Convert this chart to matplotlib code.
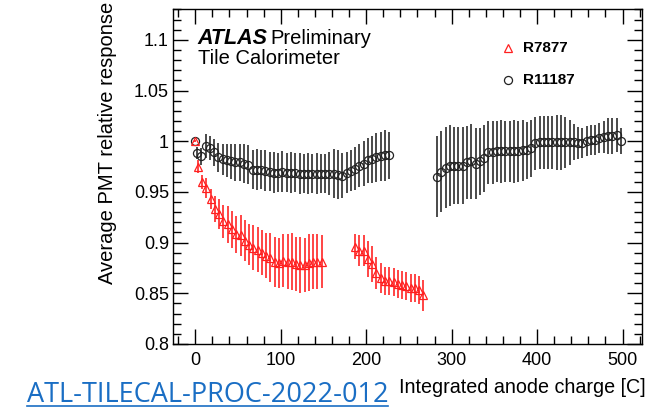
import matplotlib
matplotlib.use("Agg")
import matplotlib.pyplot as plt
from matplotlib.ticker import MultipleLocator, FuncFormatter

plt.rcParams['font.family'] = ['Liberation Sans', 'DejaVu Sans']

# R11187 (black circles), first block
blk1_x = [0, 2, 7, 12, 17, 22, 27, 32, 37, 42, 47, 52, 57, 62, 67, 72, 77, 82, 87, 92,
          97, 102, 107, 112, 117, 122, 127, 132, 137, 142, 147, 152, 157, 162, 167, 172,
          177, 182, 187, 192, 197, 202, 207, 212, 217, 222, 227]
blk1_y = [1.000, 0.988, 0.985, 0.995, 0.993, 0.989, 0.984, 0.982, 0.981, 0.980, 0.979,
          0.979, 0.978, 0.977, 0.972, 0.972, 0.972, 0.971, 0.970, 0.969, 0.969, 0.970,
          0.969, 0.969, 0.969, 0.968, 0.968, 0.968, 0.968, 0.968, 0.968, 0.968, 0.968,
          0.968, 0.967, 0.966, 0.969, 0.971, 0.973, 0.976, 0.978, 0.981, 0.982, 0.984,
          0.985, 0.986, 0.986]
blk1_e = [0.001, 0.006, 0.008, 0.012, 0.012, 0.013, 0.014, 0.015, 0.016, 0.017, 0.018,
          0.018, 0.019, 0.019, 0.019, 0.020, 0.019, 0.020, 0.019, 0.020, 0.019, 0.020,
          0.019, 0.020, 0.019, 0.020, 0.019, 0.020, 0.019, 0.020, 0.019, 0.019, 0.021,
          0.024, 0.024, 0.022, 0.020, 0.020, 0.021, 0.021, 0.022, 0.022, 0.023, 0.024,
          0.024, 0.025, 0.023]

# R11187, second block
blk2_x = [283, 288, 293, 298, 303, 308, 313, 318, 323, 328, 333, 338, 343, 348, 353,
          358, 363, 368, 373, 378, 383, 388, 393, 398, 403, 408, 413, 418, 423, 428,
          433, 438, 443, 448, 453, 458, 463, 468, 473, 478, 483, 488, 493, 498]
blk2_y = [0.965, 0.970, 0.974, 0.976, 0.976, 0.976, 0.976, 0.979, 0.980, 0.978, 0.980,
          0.983, 0.989, 0.989, 0.990, 0.990, 0.990, 0.990, 0.990, 0.990, 0.991, 0.991,
          0.993, 0.998, 0.999, 0.999, 0.999, 0.999, 0.999, 0.999, 0.999, 0.999, 0.999,
          0.998, 0.998, 1.000, 1.001, 1.001, 1.003, 1.004, 1.005, 1.005, 1.006, 1.000]
blk2_e = [0.040, 0.040, 0.040, 0.040, 0.038, 0.038, 0.038, 0.036, 0.037, 0.035, 0.033,
          0.033, 0.031, 0.031, 0.030, 0.031, 0.030, 0.030, 0.031, 0.030, 0.030, 0.028,
          0.028, 0.026, 0.026, 0.026, 0.026, 0.026, 0.027, 0.027, 0.025, 0.022, 0.018,
          0.016, 0.015, 0.015, 0.015, 0.015, 0.015, 0.016, 0.018, 0.018, 0.017, 0.013]

# R7877 (red triangles), first block
red1_x = [0, 3, 8, 13, 18, 23, 28, 33, 38, 43, 48, 53, 58, 63, 68, 73, 78, 83, 88, 93,
          98, 103, 108, 113, 118, 123, 128, 133, 138, 143, 148]
red1_y = [1.000, 0.975, 0.960, 0.954, 0.943, 0.933, 0.928, 0.921, 0.918, 0.913, 0.908,
          0.907, 0.902, 0.898, 0.895, 0.893, 0.890, 0.887, 0.885, 0.881, 0.880, 0.882,
          0.881, 0.881, 0.879, 0.878, 0.878, 0.880, 0.881, 0.881, 0.881]
red1_e = [0.001, 0.006, 0.007, 0.010, 0.010, 0.013, 0.015, 0.016, 0.018, 0.018, 0.018,
          0.020, 0.020, 0.020, 0.022, 0.022, 0.022, 0.022, 0.024, 0.025, 0.025, 0.026,
          0.027, 0.028, 0.027, 0.028, 0.027, 0.028, 0.027, 0.027, 0.026]

# R7877, second block
red2_x = [187, 192, 197, 202, 207, 212, 217, 222, 227, 232, 237, 242, 247, 252, 257,
          262, 267]
red2_y = [0.896, 0.892, 0.892, 0.884, 0.879, 0.870, 0.865, 0.862, 0.862, 0.861, 0.859,
          0.858, 0.857, 0.855, 0.855, 0.853, 0.848]
red2_e = [0.012, 0.015, 0.015, 0.018, 0.018, 0.016, 0.015, 0.014, 0.014, 0.014, 0.014,
          0.014, 0.014, 0.014, 0.014, 0.014, 0.015]

fig = plt.figure(figsize=(6.58, 4.09), dpi=100)
ax = fig.add_axes([0.263, 0.159, 0.713, 0.818])

for xs, ys, es in [(blk1_x, blk1_y, blk1_e), (blk2_x, blk2_y, blk2_e)]:
    ax.errorbar(xs, ys, yerr=es, fmt='none', ecolor='#4a4a4a', elinewidth=1.4)
    ax.plot(xs, ys, 'o', ms=5.8, mfc='none', mec='#222222', mew=0.9)

for xs, ys, es in [(red1_x, red1_y, red1_e), (red2_x, red2_y, red2_e)]:
    ax.errorbar(xs, ys, yerr=es, fmt='none', ecolor='#ff4444', elinewidth=1.4)
    ax.plot(xs, ys, '^', ms=5.8, mfc='none', mec='#ff2020', mew=0.9)

ax.set_xlim(-26, 523)
ax.set_ylim(0.8, 1.13)

ax.xaxis.set_major_locator(MultipleLocator(100))
ax.xaxis.set_minor_locator(MultipleLocator(20))
ax.yaxis.set_major_locator(MultipleLocator(0.05))
ax.yaxis.set_minor_locator(MultipleLocator(0.01))
ax.yaxis.set_major_formatter(FuncFormatter(lambda v, p: '%g' % round(v, 3)))
ax.tick_params(which='both', direction='in', top=True, right=True, labelsize=13)
ax.tick_params(which='major', length=11, width=1)
ax.tick_params(which='minor', length=5.5, width=1)
ax.tick_params(axis='y', pad=3)
ax.tick_params(axis='x', pad=6)
for s in ax.spines.values():
    s.set_linewidth(1)

# labels and annotations
fig.text(0.163, 0.995, 'Average PMT relative response', rotation=90,
         ha='center', va='top', fontsize=14.5)
fig.text(0.981, 0.039, 'Integrated anode charge [C]', ha='right', va='baseline',
         fontsize=14.2)
link = fig.text(27 / 658, 7 / 409, 'ATL-TILECAL-PROC-2022-012', ha='left', va='baseline',
                fontsize=19.5, color='#1a6ec4', family=['Open Sans', 'DejaVu Sans'])
ax.plot([27 / 658, 388 / 658], [3.5 / 409, 3.5 / 409], transform=fig.transFigure,
        color='#1a6ec4', lw=1.2, clip_on=False)

ax.text(0.053, 0.897, 'ATLAS', transform=ax.transAxes, fontsize=15.5,
        fontweight='bold', style='italic', va='baseline')
ax.text(0.207, 0.897, 'Preliminary', transform=ax.transAxes, fontsize=14.5,
        va='baseline')
ax.text(0.053, 0.837, 'Tile Calorimeter', transform=ax.transAxes, fontsize=14.5,
        va='baseline')

ax.plot([0.714], [0.885], '^', ms=5.8, mfc='none', mec='#ff2020', mew=0.9,
        transform=ax.transAxes)
ax.text(0.745, 0.885, 'R7877', transform=ax.transAxes, fontsize=11,
        fontweight='bold', va='center')
ax.plot([0.714], [0.789], 'o', ms=5.8, mfc='none', mec='#222222', mew=0.9,
        transform=ax.transAxes)
ax.text(0.745, 0.789, 'R11187', transform=ax.transAxes, fontsize=11,
        fontweight='bold', va='center')

fig.savefig('out.png', dpi=100)
